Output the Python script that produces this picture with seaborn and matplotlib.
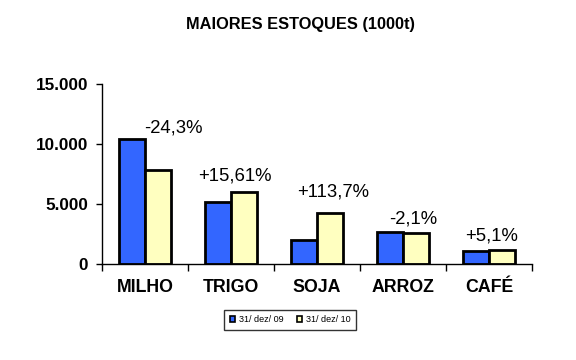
import matplotlib
matplotlib.use("Agg")
import matplotlib.pyplot as plt
import seaborn as sns
import pandas as pd
from matplotlib.patches import Rectangle
from matplotlib.ticker import FuncFormatter, FixedLocator

categorias = ["MILHO", "TRIGO", "SOJA", "ARROZ", "CAFÉ"]
estoque_09 = [10400, 5170, 2000, 2670, 1100]
estoque_10 = [7870, 5980, 4280, 2610, 1160]
variacao = ["-24,3%", "+15,61%", "+113,7%", "-2,1%", "+5,1%"]
periodos = ["31/ dez/ 09", "31/ dez/ 10"]
yticks = [0, 5000, 10000, 15000]
titulo = "MAIORES ESTOQUES (1000t)"

cores = ["#3366FF", "#FFFFC0"]
# label placement (layout): x offset in category units, y offset in points (to text centre)
lab_dx = [0.33, 0.05, 0.19, 0.12, 0.03]
lab_dy = [8, 12, 15, 9, 10]

sns.set_theme(style="white")
plt.rcParams["font.family"] = ["Liberation Sans", "DejaVu Sans"]
plt.rcParams["text.color"] = "black"
plt.rcParams["xtick.color"] = "black"
plt.rcParams["ytick.color"] = "black"
plt.rcParams["axes.labelcolor"] = "black"

df = pd.DataFrame({
    "categoria": categorias * 2,
    "periodo": [periodos[0]] * len(categorias) + [periodos[1]] * len(categorias),
    "valor": estoque_09 + estoque_10,
})

fig = plt.figure(figsize=(5.76, 3.6), dpi=100)
ax = fig.add_axes([102 / 576, 1 - 264 / 360, 430 / 576, 180 / 360])

sns.barplot(data=df, x="categoria", y="valor", hue="periodo", order=categorias,
            hue_order=periodos, palette=cores, width=0.6, edgecolor="black",
            linewidth=2.0, saturation=1, ax=ax, legend=False)

ax.set_xlim(-0.5, len(categorias) - 0.5)
ax.set_ylim(0, 15000)
ax.set_xlabel("")
ax.set_ylabel("")
for s in ["top", "right"]:
    ax.spines[s].set_visible(False)
for s in ["left", "bottom"]:
    ax.spines[s].set_color("black")
    ax.spines[s].set_linewidth(1.0)

ax.set_yticks(yticks)
ax.yaxis.set_major_formatter(FuncFormatter(lambda v, p: f"{int(v):,}".replace(",", ".")))
ax.tick_params(axis="y", which="major", left=True, length=4, width=1, color="black",
               pad=6, labelsize=12.3, labelcolor="black")
for t in ax.get_yticklabels():
    t.set_fontweight("bold")

ax.set_xticks(range(len(categorias)))
ax.set_xticklabels(categorias, fontweight="bold", fontsize=12.8, color="black")
ax.tick_params(axis="x", which="major", length=0, pad=11)
ax.xaxis.set_minor_locator(FixedLocator([i - 0.5 for i in range(len(categorias) + 1)]))
ax.tick_params(axis="x", which="minor", bottom=True, length=5, width=1, color="black")

for i, lab in enumerate(variacao):
    top = max(estoque_09[i], estoque_10[i])
    ax.annotate(lab, xy=(i + lab_dx[i], top), xytext=(0, lab_dy[i]),
                textcoords="offset points", ha="center", va="center",
                fontsize=13.3, color="black")

handles = [Rectangle((0, 0), 1, 1, facecolor=c, edgecolor="black", linewidth=1.2) for c in cores]
leg = fig.legend(handles, periodos, loc="center", bbox_to_anchor=(290 / 576, 1 - 320 / 360),
                 ncol=2, fontsize=6.5, frameon=True, fancybox=False, handlelength=0.6,
                 handleheight=0.6, handletextpad=0.4, columnspacing=1.5, borderpad=0.6,
                 edgecolor="black")
leg.get_frame().set_linewidth(1.0)
for t in leg.get_texts():
    t.set_color("black")

fig.text(300 / 576, 1 - 25 / 360, titulo, ha="center", va="center",
         fontsize=11.8, fontweight="bold", color="black")

fig.savefig("out.png", dpi=100)
